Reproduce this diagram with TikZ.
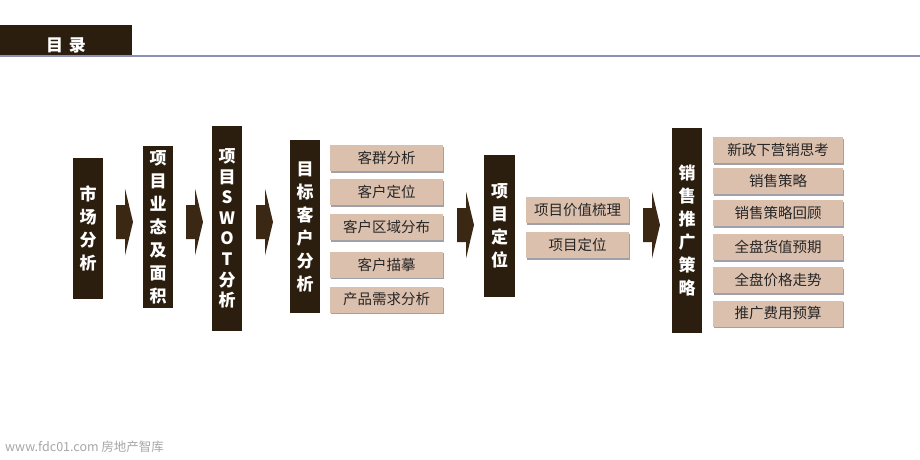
\documentclass[tikz,border=0pt]{standalone}
\usepackage{fontspec}
\setmainfont{Noto Sans CJK SC}
\usepackage{tikz}
\usetikzlibrary{shadows}
\definecolor{boxbrown}{RGB}{44,30,14}
\definecolor{arrowbrown}{RGB}{58,40,20}
\definecolor{tagpink}{RGB}{220,192,174}
\definecolor{tagshade}{RGB}{160,160,170}
\definecolor{rulecol}{RGB}{138,144,182}

\begin{document}
\begin{tikzpicture}[x=1pt, y=-1pt,
		darkbox/.style={fill=boxbrown, text=white, inner sep=0pt, minimum width=30pt,
			align=center, font=\bfseries\fontsize{17}{23}\selectfont},
		tagbox/.style={fill=tagpink, text=black!85, inner sep=0pt, minimum height=26pt,
			font=\fontsize{14.5}{16}\selectfont,
			drop shadow={shadow xshift=1pt, shadow yshift=-1.5pt, fill=tagshade, opacity=1}},
		blockarrow/.style={fill=arrowbrown, draw=none}]
	\useasboundingbox (0,0) rectangle (920,460);
	% header
	\fill[boxbrown] (0,25) rectangle (132,55);
	\draw[rulecol, line width=1.5pt] (0,56) -- (920,56);
	\node[text=white, font=\bfseries\fontsize{17}{18}\selectfont] (title) at (66,45.5) {目\hspace{6pt}录};
	% main column boxes
	\node[darkbox, minimum height=141pt] (market) at (88,228.5) {市\\场\\分\\析};
	\node[darkbox, minimum height=162pt] (format) at (158,227) {项\\目\\业\\态\\及\\面\\积};
	\node[darkbox, minimum height=205pt, font=\bfseries\fontsize{17}{20.6}\selectfont] (swot) at (227,228.5) {项\\目\\S\\W\\O\\T\\分\\析};
	\node[darkbox, minimum height=173pt] (client) at (305,226.5) {目\\标\\客\\户\\分\\析};
	\node[darkbox, minimum height=142pt, minimum width=31pt] (position) at (499.5,226) {项\\目\\定\\位};
	\node[darkbox, minimum height=205pt] (sales) at (687,230.5) {销\\售\\推\\广\\策\\略};
	% block arrows
	\coordinate (A1) at (116,222);
	\coordinate (A2) at (186,222);
	\coordinate (A3) at (256,222);
	\coordinate (A4) at (457,225);
	\coordinate (A5) at (643,225);
	\foreach \a in {A1,A2,A3,A4,A5}
		\fill[blockarrow, shift={(\a)}] (0,-17) -- (9,-17) -- (9,-33.5) -- (17,0) -- (9,33.5) -- (9,17) -- (0,17) -- cycle;
	% client items
	\node[tagbox, minimum width=113pt] (c1) at (386.5,158) {客群分析};
	\node[tagbox, minimum width=113pt] (c2) at (386.5,192) {客户定位};
	\node[tagbox, minimum width=113pt] (c3) at (386.5,227) {客户区域分布};
	\node[tagbox, minimum width=113pt] (c4) at (386.5,264.5) {客户描摹};
	\node[tagbox, minimum width=113pt] (c5) at (386.5,299.5) {产品需求分析};
	% position items
	\node[tagbox, minimum width=103pt] (p1) at (577.5,210) {项目价值梳理};
	\node[tagbox, minimum width=103pt] (p2) at (577.5,245) {项目定位};
	% sales items
	\node[tagbox, minimum width=130pt] (s1) at (778,150) {新政下营销思考};
	\node[tagbox, minimum width=130pt] (s2) at (778,181) {销售策略};
	\node[tagbox, minimum width=130pt] (s3) at (778,213) {销售策略回顾};
	\node[tagbox, minimum width=130pt] (s4) at (778,247) {全盘货值预期};
	\node[tagbox, minimum width=130pt] (s5) at (778,280) {全盘价格走势};
	\node[tagbox, minimum width=130pt] (s6) at (778,313.5) {推广费用预算};
	% footer
	\node[anchor=west, text=black!35, inner sep=0pt, font=\fontsize{12.5}{14}\selectfont] (footer) at (5,447) {www.fdc01.com 房地产智库};
\end{tikzpicture}
\end{document}
